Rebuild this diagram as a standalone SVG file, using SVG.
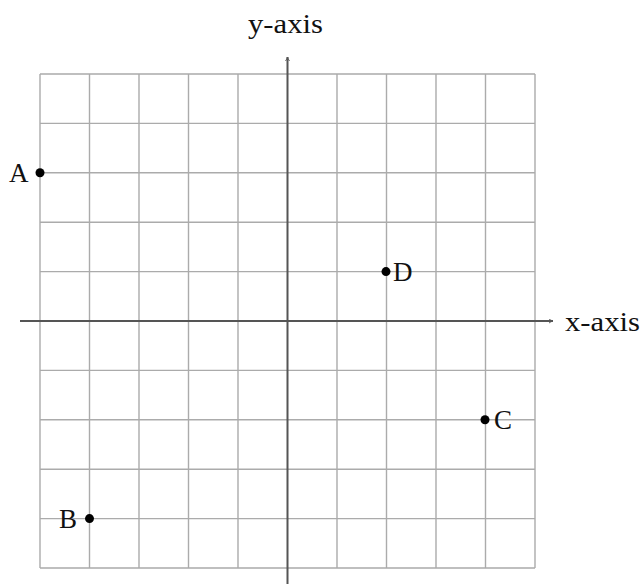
<svg xmlns="http://www.w3.org/2000/svg" width="643" height="584" viewBox="0 0 643 584">
<style>
.grid{stroke:#ababab;stroke-width:1.4;fill:none}
.axis{stroke:#555;stroke-width:2;fill:none}
.lbl{font-family:"Liberation Serif","DejaVu Serif",serif;font-size:27px;fill:#111}
.pt{fill:#000}
</style>
<defs>
<marker id="arr" viewBox="0 0 10 10" refX="9" refY="5" markerWidth="5" markerHeight="5" orient="auto" markerUnits="userSpaceOnUse">
<path d="M1,1 Q5,4 9,5 Q5,6 1,9" fill="none" stroke="#555" stroke-width="1.8"/>
</marker>
</defs>
<rect width="643" height="584" fill="#fff"/>
<g id="grid" class="grid">
<path d="M40,74V568M89.5,74V568M139,74V568M188.5,74V568M238,74V568M337,74V568M386.5,74V568M436,74V568M485.5,74V568M535,74V568"/>
<path d="M40,74H535M40,123.4H535M40,172.8H535M40,222.2H535M40,271.6H535M40,370.4H535M40,419.8H535M40,469.2H535M40,518.6H535M40,568H535"/>
</g>
<g id="connectors">
<line class="axis" x1="20" y1="321" x2="553" y2="321" marker-end="url(#arr)"/>
<line class="axis" x1="287.5" y1="584" x2="287.5" y2="57" marker-end="url(#arr)"/>
</g>
<g id="x-axis-label"><text class="lbl" x="565" y="331" textLength="75" lengthAdjust="spacingAndGlyphs">x-axis</text></g>
<g id="y-axis-label"><text class="lbl" x="248" y="33" textLength="75" lengthAdjust="spacingAndGlyphs">y-axis</text></g>
<g id="A"><circle class="pt" cx="40" cy="172.8" r="4.5"/><text class="lbl" x="9" y="182">A</text></g>
<g id="B"><circle class="pt" cx="89.5" cy="518.6" r="4.5"/><text class="lbl" x="59" y="528">B</text></g>
<g id="C"><circle class="pt" cx="485" cy="419.8" r="4.5"/><text class="lbl" x="494" y="429">C</text></g>
<g id="D"><circle class="pt" cx="386" cy="271.6" r="4.5"/><text class="lbl" x="393" y="281">D</text></g>
</svg>
